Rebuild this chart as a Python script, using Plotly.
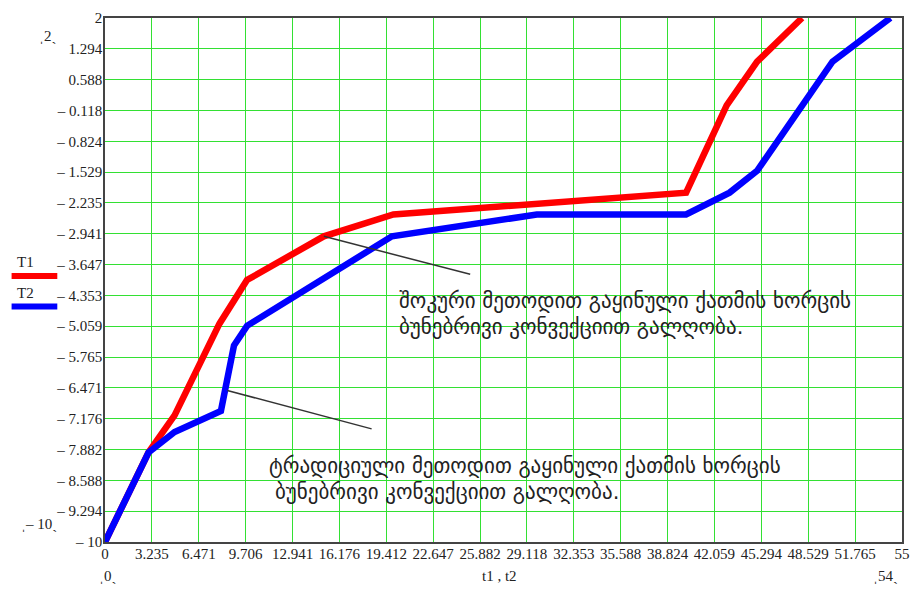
import plotly.graph_objects as go

# Thawing curves: temperature vs time
t1 = [0, 3.0, 4.8, 7.9, 9.8, 15.1, 19.9, 40.1, 42.9, 45.0, 48.1]
T1 = [-10, -7.95, -7.1, -5.0, -4.0, -3.0, -2.5, -2.0, 0.0, 1.0, 2.0]

t2 = [0, 3.0, 4.8, 8.0, 8.9, 9.8, 19.8, 29.8, 40.1, 43.1, 45.0, 50.2, 54.2]
T2 = [-10, -7.95, -7.48, -7.0, -5.5, -5.05, -3.0, -2.5, -2.5, -2.0, -1.5, 1.0, 2.0]

x_min, x_max = 0, 55
y_min, y_max = -10, 2
n_div = 17
x_ticks = [x_min + (x_max - x_min) * i / n_div for i in range(n_div + 1)]
y_ticks = [y_min + (y_max - y_min) * i / n_div for i in range(n_div + 1)]


def fmt(v):
    s = f"{abs(v):.3f}".rstrip("0").rstrip(".")
    return ("\u2013 " + s) if v < -1e-9 else s


x_labels = [fmt(v) for v in x_ticks]
y_labels = [fmt(v) for v in y_ticks]

shock_lines = ["შოკური მეთოდით გაყინული ქათმის ხორცის",
               "ბუნებრივი კონვექციით გალღობა."]
trad_lines = ["ტრადიციული მეთოდით გაყინული ქათმის ხორცის",
              "ბუნებრივი კონვექციით გალღობა."]

fig = go.Figure()
fig.add_trace(go.Scatter(x=t1, y=T1, mode="lines", name="T1",
                         line=dict(color="#ff0000", width=6.5)))
fig.add_trace(go.Scatter(x=t2, y=T2, mode="lines", name="T2",
                         line=dict(color="#0000ff", width=6.5)))

W, H = 920, 589
ml, mr, mt, mb = 105, 13, 10, 47
pw, ph = W - ml - mr, H - mt - mb


def px(xp):
    return (xp - ml) / pw


def py(yp):
    return 1 - (yp - mt) / ph


axis_font = dict(family="Liberation Serif", size=15, color="#222")
grid = "#33e033"

fig.update_layout(
    width=W, height=H,
    margin=dict(l=ml, r=mr, t=mt, b=mb),
    paper_bgcolor="white", plot_bgcolor="white",
    showlegend=False,
    xaxis=dict(range=[x_min, x_max], tickvals=x_ticks, ticktext=x_labels,
               showgrid=True, gridcolor=grid, gridwidth=1.4, zeroline=False,
               showline=True, linecolor="#444", linewidth=1.5, mirror=True,
               ticks="", tickfont=axis_font, ticklabelstandoff=-3),
    yaxis=dict(range=[y_min, y_max], tickvals=y_ticks, ticktext=y_labels,
               showgrid=True, gridcolor=grid, gridwidth=1.4, zeroline=False,
               showline=True, linecolor="#444", linewidth=1.5, mirror=True,
               ticks="", tickfont=axis_font, ticklabelstandoff=-2),
)

# Pointer lines from each curve to its caption
fig.add_shape(type="line", xref="x", yref="y", x0=15.1, y0=-3.0, x1=25.2, y1=-3.87,
              line=dict(color="#333", width=1.5))
fig.add_shape(type="line", xref="x", yref="y", x0=8.44, y0=-6.53, x1=18.4, y1=-7.41,
              line=dict(color="#333", width=1.5))

cap_font = dict(family="DejaVu Sans", size=21, color="#222")
for txt, xp, yp in [(shock_lines[0], 399, 297), (shock_lines[1], 399, 324),
                    (trad_lines[0], 268, 465), (trad_lines[1], 274, 491)]:
    fig.add_annotation(xref="paper", yref="paper", x=px(xp), y=py(yp), text=txt,
                       showarrow=False, xanchor="left", yanchor="middle", align="left",
                       font=cap_font)

# Legend: name above a colour swatch
leg_font = dict(family="Liberation Serif", size=15, color="#222")
for name, color, ty, ly in [("T1", "#ff0000", 258, 272), ("T2", "#0000ff", 289, 303)]:
    fig.add_annotation(xref="paper", yref="paper", x=px(25), y=py(ty), text=name,
                       showarrow=False, xanchor="center", yanchor="middle", font=leg_font)
    fig.add_shape(type="line", xref="paper", yref="paper", x0=px(11), x1=px(57),
                  y0=py(ly), y1=py(ly), line=dict(color=color, width=6))

# Axis limit markers and axis title
small = dict(family="Liberation Serif", size=15, color="#222")
for txt, xp, yp in [("\u02cc2\u02cf", 48, 28), ("\u02cc\u2013 10\u02cf", 39, 524),
                    ("\u02cc0\u02cf", 108, 577), ("\u02cc54\u02cf", 890, 577),
                    ("t1 , t2", 502, 577)]:
    fig.add_annotation(xref="paper", yref="paper", x=px(xp), y=py(yp), text=txt,
                       showarrow=False, xanchor="center", yanchor="middle", font=small)

fig.write_html("out.html")
